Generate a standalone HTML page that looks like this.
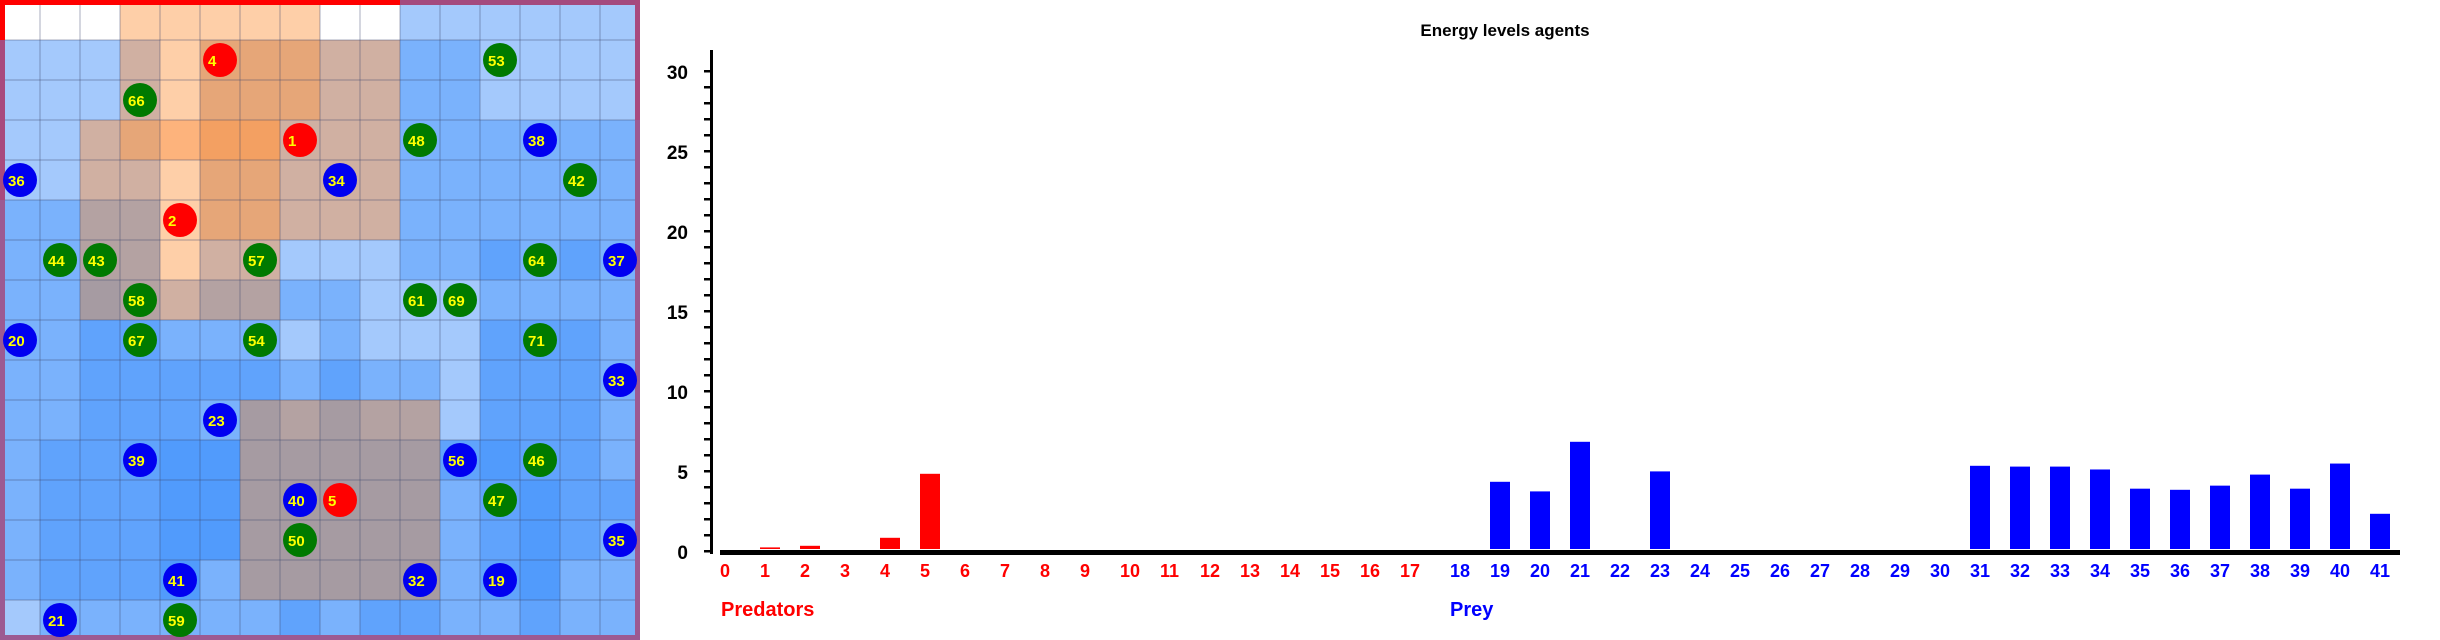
<!DOCTYPE html>
<html><head><meta charset="utf-8"><style>
html,body{margin:0;padding:0;background:#fff;}
svg{display:block;font-family:"Liberation Sans",sans-serif;}
</style></head><body>
<svg id="root" width="2440" height="640" viewBox="0 0 2440 640">
<g id="grid"></g>
<g id="chart"></g>
</svg>
<script>
const NS="http://www.w3.org/2000/svg";
function mk(tag,attrs,parent){const e=document.createElementNS(NS,tag);for(const k in attrs)e.setAttribute(k,attrs[k]);parent.appendChild(e);return e;}
// ---------- grid ----------
const C={W:"#ffffff",P:"#fecfa8",T:"#d0b0a2",O:"#e6a678",X:"#f3a062",Y:"#fdb37c",G:"#b4a2a2",H:"#a69ba2",L:"#a4c9fc",M:"#7ab2fc",D:"#60a3fc",E:"#519bfc"};
const rows=[
"WWWPPPPPWWLLLLLL",
"LLLTPOOOTTMMLLLL",
"LLLTPOOOTTMMLLLL",
"LLTOYXXTTTMMMMMM",
"LLTTPOOTTTMMMMMM",
"MMGGPOOTTTMMMMMM",
"MMGGPTTLLLMMDMDM",
"MMHGTGGMMLLLMMMM",
"MMDDMMMLMLLLDDDM",
"MMDDDDDMDMMLDDDM",
"MMDDDMHGHGGLDDDM",
"MDDDEEHHHHHDEDDM",
"MDDDEEHHHHHMDEDD",
"MDDDEEHHHHHMDEDM",
"MDDDEMHHHHHMDEMM",
"LMMMMMMDMDDMMDMM"];
const agentIds=["4","53","66","1","48","38","36","34","42","2","44","43","57","64","37","58","61","69","20","67","54","71","33","23","39","56","46","40","5","47","50","35","41","32","19","21","59"];
const agentCols=[5,12,3,7,10,13,0,8,14,4,1,2,6,13,15,3,10,11,0,3,6,13,15,5,3,11,13,7,8,12,7,15,4,10,12,1,4];
const agentRows=[1,1,2,3,3,3,4,4,4,5,6,6,6,6,6,7,7,7,8,8,8,8,9,10,11,11,11,12,12,12,13,13,14,14,14,15,15];
const agentKinds=["r","g","g","r","g","b","b","b","g","r","g","g","g","g","b","g","g","g","b","g","g","g","b","b","b","b","g","b","r","g","g","b","b","b","b","b","g"];
const grid=document.getElementById('grid');
const cell=40;
rows.forEach((r,ri)=>{for(let ci=0;ci<16;ci++){
 const c=mk('rect',{x:ci*cell,y:ri*cell,width:cell,height:cell,fill:C[r[ci]]},grid);
 
 
}});
for(let i=1;i<16;i++){
 mk('line',{x1:i*cell,y1:0,x2:i*cell,y2:640,stroke:"rgba(60,70,110,0.22)","stroke-width":2},grid);
 mk('line',{x1:0,y1:i*cell,x2:640,y2:i*cell,stroke:"rgba(60,70,110,0.22)","stroke-width":2},grid);
}
// border
mk('rect',{x:2.5,y:2.5,width:635,height:635,fill:"none",stroke:"#9c5a92","stroke-width":5},grid);
mk('rect',{x:0,y:0,width:400,height:5,fill:"#ff0000"},grid);
mk('rect',{x:400,y:0,width:240,height:5,fill:"#a44a7e"},grid);
mk('rect',{x:0,y:0,width:5,height:40,fill:"#ff0000"},grid);
mk('rect',{x:0,y:40,width:5,height:160,fill:"#a84a7e"},grid);
mk('rect',{x:635,y:0,width:5,height:120,fill:"#a84a7e"},grid);
const KC={r:"#ff0000",g:"#007a00",b:"#0000f0"};
agentIds.forEach((id,i)=>{
 const cx=agentCols[i]*cell+20, cy=agentRows[i]*cell+20;
 const g=mk('g',{},grid);
 
 
 mk('circle',{cx:cx,cy:cy,r:17,fill:KC[agentKinds[i]]},g);
 const t=mk('text',{x:cx-12,y:cy+6,fill:"#ffff00","font-size":15,"font-weight":"bold"},g);
 t.textContent=id;
});
// ---------- chart ----------
const predLabels=["0","1","2","3","4","5","6","7","8","9","10","11","12","13","14","15","16","17"];
const predValues=[0,0.1,0.2,0,0.7,4.7,0,0,0,0,0,0,0,0,0,0,0,0];
const preyLabels=["18","19","20","21","22","23","24","25","26","27","28","29","30","31","32","33","34","35","36","37","38","39","40","41"];
const preyValues=[0,4.2,3.6,6.7,0,4.85,0,0,0,0,0,0,0,5.2,5.15,5.15,4.97,3.77,3.7,3.96,4.65,3.77,5.34,2.2];
const yTicks=[0,5,10,15,20,25,30];
const chart=document.getElementById('chart');
const y0=551, pxPerUnit=16;
const yScale=v=>y0-v*pxPerUnit;
const predX=i=>720+40*i;
const preyX=i=>1450+40*i;
const title=mk('text',{x:1505,y:36,"text-anchor":"middle","font-size":17,"font-weight":"bold",fill:"#000"},chart);
title.textContent="Energy levels agents";


const yAxis=mk('rect',{x:710,y:50,width:3,height:504,fill:"#000"},chart);


for(let v=0;v<=30;v++){mk('rect',{x:704,y:yScale(v)-1,width:7,height:2.5,fill:"#000"},chart);}
yTicks.forEach(v=>{
 const t=mk('text',{x:688,y:yScale(v)+8,"text-anchor":"end","font-size":19,"font-weight":"bold",fill:"#000"},chart);
 t.textContent=String(v);
 
 
});
const xAxis=mk('rect',{x:720,y:550,width:1680,height:5,fill:"#000"},chart);


function series(labels,values,xf,color,kind){
 labels.forEach((lab,i)=>{
  const x=xf(i);
  if(values[i]>0){
   const h=values[i]*pxPerUnit;
   const b=mk('rect',{x:x,y:549-h,width:20,height:h,fill:color},chart);
   
   
  }
  const t=mk('text',{x:x,y:577,"font-size":18,"font-weight":"bold",fill:color},chart);
  t.textContent=lab;
  
  
 });
}
series(predLabels,predValues,predX,"#ff0000","predator");
series(preyLabels,preyValues,preyX,"#0000ff","prey");
const pl=mk('text',{x:721,y:616,"font-size":20,"font-weight":"bold",fill:"#ff0000"},chart);
pl.textContent="Predators";


const yl=mk('text',{x:1450,y:616,"font-size":20,"font-weight":"bold",fill:"#0000ff"},chart);
yl.textContent="Prey";


</script>
</body></html>
